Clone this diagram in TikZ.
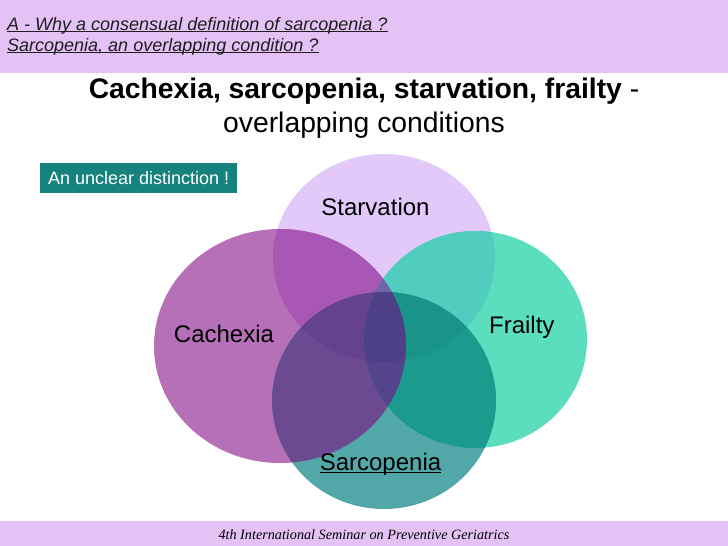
\documentclass[tikz,border=0pt]{standalone}
\usepackage{fontspec}
\setmainfont{Liberation Sans}
\newfontfamily\footserif{Liberation Serif}
\definecolor{band}{RGB}{229,194,246}
\definecolor{cS}{RGB}{226,201,250}
\definecolor{cC}{RGB}{181,112,184}
\definecolor{cF}{RGB}{90,222,190}
\definecolor{cP}{RGB}{82,168,168}
\definecolor{cSC}{RGB}{168,88,180}
\definecolor{cSF}{RGB}{80,205,190}
\definecolor{cSP}{RGB}{60,120,160}
\definecolor{cCF}{RGB}{100,110,165}
\definecolor{cCP}{RGB}{108,74,146}
\definecolor{cFP}{RGB}{27,155,142}
\definecolor{cSCF}{RGB}{115,100,165}
\definecolor{cSCP}{RGB}{100,66,142}
\definecolor{cSFP}{RGB}{24,148,136}
\definecolor{cCFP}{RGB}{84,68,140}
\definecolor{cSCFP}{RGB}{78,64,135}
\definecolor{boxteal}{RGB}{22,130,125}
\definecolor{hdrtext}{RGB}{30,30,30}
\newcommand\ellS{(384,258) ellipse [x radius=111pt, y radius=104pt]}
\newcommand\ellC{(280,346) ellipse [x radius=126pt, y radius=117pt]}
\newcommand\ellF{(475.5,339.5) ellipse [x radius=111.5pt, y radius=108.5pt]}
\newcommand\ellP{(384,400.5) ellipse [x radius=112pt, y radius=108.5pt]}
\tikzset{
  hdr/.style={font=\fontsize{18}{20}\selectfont\itshape, text=hdrtext, inner sep=0pt, anchor=base west},
  ttl/.style={font=\fontsize{28.3}{32}\selectfont, inner sep=0pt, anchor=base},
  lbl/.style={font=\fontsize{24}{28}\selectfont, inner sep=0pt, anchor=base},
  tag/.style={fill=boxteal, text=white, font=\fontsize{18}{20}\selectfont, inner sep=0pt,
              minimum width=197pt, minimum height=30pt, anchor=north west},
  foot/.style={font=\fontsize{14.2}{16}\selectfont\footserif\itshape, inner sep=0pt, anchor=base},
  uline/.style={line width=0.9pt}
}
\begin{document}
\begin{tikzpicture}[x=1pt,y=-1pt]
\useasboundingbox (0,0) rectangle (728,546);
\fill[white] (0,0) rectangle (728,546);
% bands
\fill[band] (0,0) rectangle (728,73);
\fill[band] (0,521) rectangle (728,546);
% single regions
\fill[cS] \ellS;
\fill[cC] \ellC;
\fill[cF] \ellF;
\fill[cP] \ellP;
% pairs
\begin{scope}\clip \ellS; \fill[cSC] \ellC; \end{scope}
\begin{scope}\clip \ellS; \fill[cSF] \ellF; \end{scope}
\begin{scope}\clip \ellS; \fill[cSP] \ellP; \end{scope}
\begin{scope}\clip \ellC; \fill[cCF] \ellF; \end{scope}
\begin{scope}\clip \ellC; \fill[cCP] \ellP; \end{scope}
\begin{scope}\clip \ellF; \fill[cFP] \ellP; \end{scope}
% triples
\begin{scope}\clip \ellS; \clip \ellC; \fill[cSCF] \ellF; \end{scope}
\begin{scope}\clip \ellS; \clip \ellC; \fill[cSCP] \ellP; \end{scope}
\begin{scope}\clip \ellS; \clip \ellF; \fill[cSFP] \ellP; \end{scope}
\begin{scope}\clip \ellC; \clip \ellF; \fill[cCFP] \ellP; \end{scope}
% all four
\begin{scope}\clip \ellS; \clip \ellC; \clip \ellF; \fill[cSCFP] \ellP; \end{scope}
% header
\node[hdr] (h1) at (7,30) {A - Why a consensual definition of sarcopenia ?\ };
\node[hdr] (h2) at (7,51) {Sarcopenia, an overlapping condition ?};
\draw[uline, hdrtext] ([yshift=-1.8pt]h1.base west) -- ([yshift=-1.8pt]h1.base east);
\draw[uline, hdrtext] ([yshift=-1.8pt]h2.base west) -- ([yshift=-1.8pt]h2.base east);
% title
\node[ttl] (t1) at (364,98) {\textbf{Cachexia, sarcopenia, starvation, frailty} -};
\node[ttl] (t2) at (364,132) {overlapping conditions};
% tag
\node[tag] (tag) at (40,163) {An unclear distinction !};
% labels
\node[lbl] (lS) at (375.5,215) {Starvation};
\node[lbl] (lC) at (224,342) {Cachexia};
\node[lbl] (lF) at (521.8,333) {Frailty};
\node[lbl] (lP) at (380.5,470) {Sarcopenia};
\draw[uline, black] ([yshift=-2pt]lP.base west) -- ([yshift=-2pt]lP.base east);
% footer
\node[foot] (ft) at (364,539) {4th International Seminar on Preventive Geriatrics};
\end{tikzpicture}
\end{document}
